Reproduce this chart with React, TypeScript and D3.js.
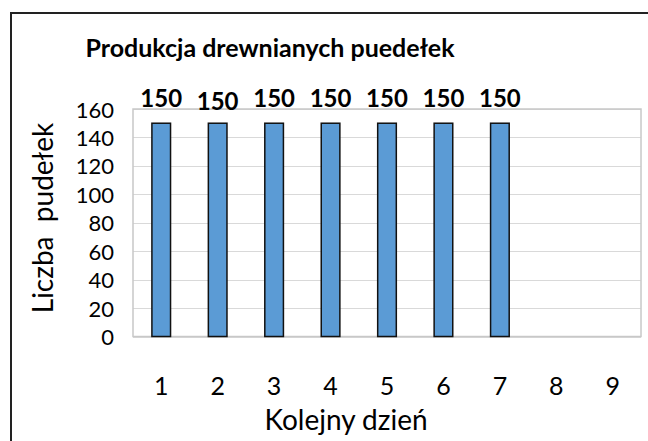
import React, { useEffect, useRef } from "react";
import * as d3 from "d3";

const days = ["1", "2", "3", "4", "5", "6", "7", "8", "9"];
const boxes = [150, 150, 150, 150, 150, 150, 150, null, null];
const yTicks = [0, 20, 40, 60, 80, 100, 120, 140, 160];

const title = "Produkcja drewnianych puedełek";
const yTitle = "Liczba  pudełek";
const xTitle = "Kolejny dzień";

const W = 648;
const H = 441;
const font = "Lato, 'Open Sans', sans-serif";

export default function App() {
  const ref = useRef<SVGSVGElement>(null);

  useEffect(() => {
    const svg = d3.select(ref.current);
    svg.selectAll("*").remove();

    const plot = { left: 133, right: 641, top: 109, bottom: 336.5 };

    const x = d3
      .scaleBand()
      .domain(days)
      .range([plot.left, plot.right])
      .paddingInner(0.67)
      .paddingOuter(0.335);

    const y = d3.scaleLinear().domain([0, 160]).range([plot.bottom, plot.top]);

    svg.append("rect").attr("width", W).attr("height", H).attr("fill", "#fff");

    // chart frame (cropped: only top and left visible)
    svg
      .append("path")
      .attr("d", `M11,${H} V13 H${W}`)
      .attr("fill", "none")
      .attr("stroke", "#222")
      .attr("stroke-width", 2);

    // gridlines
    svg
      .append("g")
      .selectAll("line")
      .data(yTicks)
      .join("line")
      .attr("x1", plot.left)
      .attr("x2", plot.right)
      .attr("y1", (d) => Math.round(y(d)) + 0.5)
      .attr("y2", (d) => Math.round(y(d)) + 0.5)
      .attr("stroke", "#d9d9d9")
      .attr("stroke-width", 1.2);

    // plot area border
    svg
      .append("rect")
      .attr("x", plot.left)
      .attr("y", plot.top)
      .attr("width", plot.right - plot.left)
      .attr("height", plot.bottom - plot.top)
      .attr("fill", "none")
      .attr("stroke", "#c8c8c8")
      .attr("stroke-width", 1.5);

    const data = days.map((d, i) => ({ day: d, v: boxes[i] }));

    svg
      .append("g")
      .selectAll("rect")
      .data(data.filter((d) => d.v != null))
      .join("rect")
      .attr("x", (d) => x(d.day)!)
      .attr("y", (d) => y(d.v as number))
      .attr("width", x.bandwidth())
      .attr("height", (d) => y(0) - y(d.v as number))
      .attr("fill", "#5b9bd5")
      .attr("stroke", "#111")
      .attr("stroke-width", 1.5);

    // data labels
    svg
      .append("g")
      .selectAll("text")
      .data(data.filter((d) => d.v != null))
      .join("text")
      .attr("x", (d) => x(d.day)! + x.bandwidth() / 2)
      .attr("y", (d, i) => (i === 1 ? 110 : 107))
      .attr("text-anchor", "middle")
      .attr("font-family", font)
      .attr("font-weight", "bold")
      .attr("font-size", 24)
      .attr("fill", "#000")
      .text((d) => String(d.v));

    // y tick labels
    svg
      .append("g")
      .selectAll("text")
      .data(yTicks)
      .join("text")
      .attr("x", 114)
      .attr("y", (d) => y(d) + 8.5)
      .attr("text-anchor", "end")
      .attr("font-family", font)
      .attr("font-size", 22)
      .attr("fill", "#000")
      .text((d) => d);

    // x tick labels
    svg
      .append("g")
      .selectAll("text")
      .data(days)
      .join("text")
      .attr("x", (d) => x(d)! + x.bandwidth() / 2)
      .attr("y", 395)
      .attr("text-anchor", "middle")
      .attr("font-family", font)
      .attr("font-size", 25)
      .attr("fill", "#000")
      .text((d) => d);

    svg
      .append("text")
      .attr("x", 270)
      .attr("y", 57)
      .attr("text-anchor", "middle")
      .attr("font-family", font)
      .attr("font-weight", "bold")
      .attr("font-size", 25)
      .attr("fill", "#000")
      .text(title);

    svg
      .append("text")
      .attr("transform", "translate(53,218) rotate(-90)")
      .attr("text-anchor", "middle")
      .attr("font-family", font)
      .attr("font-size", 28)
      .attr("fill", "#000")
      .attr("xml:space", "preserve")
      .style("white-space", "pre")
      .text(yTitle);

    svg
      .append("text")
      .attr("x", 346)
      .attr("y", 430)
      .attr("text-anchor", "middle")
      .attr("font-family", font)
      .attr("font-size", 28)
      .attr("fill", "#000")
      .text(xTitle);
  }, []);

  return (
    <svg
      ref={ref}
      width={W}
      height={H}
      style={{ position: "absolute", left: 0, top: 0 }}
    />
  );
}
